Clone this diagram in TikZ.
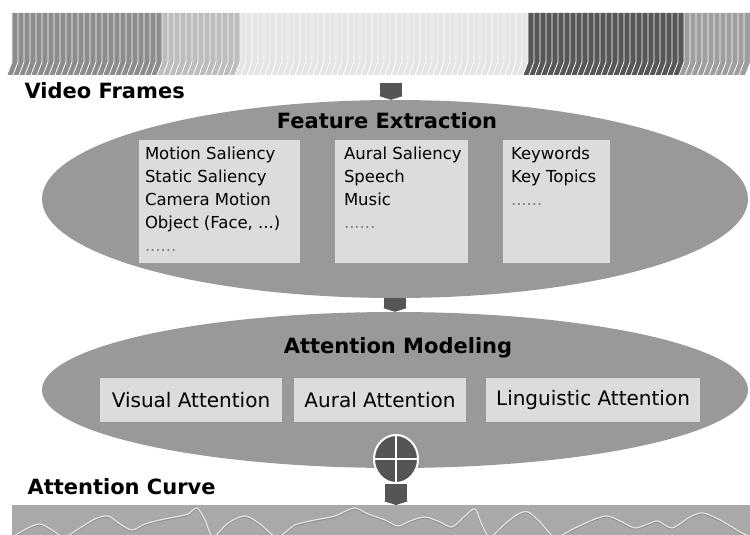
\documentclass[tikz,border=0pt]{standalone}
\usepackage{fontspec}
\setmainfont{DejaVu Sans}
\usetikzlibrary{shapes.geometric,positioning,arrows.meta}
\definecolor{ellc}{HTML}{999999}
\definecolor{boxc}{HTML}{DCDCDC}
\definecolor{connc}{HTML}{555555}
\definecolor{stripc}{HTML}{A9A9A9}
\definecolor{wavec}{HTML}{E4E4E4}
\tikzset{
  stage/.style={ellipse, fill=ellc, inner sep=0pt, minimum width=706pt},
  title/.style={font=\fontsize{21}{24}\selectfont\bfseries},
  featbox/.style={rectangle, fill=boxc, minimum height=123pt, inner sep=0pt},
  feattext/.style={align=left, inner sep=0pt, font=\fontsize{16.5}{23}\selectfont},
  attbox/.style={rectangle, fill=boxc, minimum height=44pt, inner sep=0pt, font=\fontsize{20}{24}\selectfont},
  conn/.style={draw=connc, line width=22pt, -{Triangle[width=25pt,length=4pt]}}
}
\newcommand{\more}{{\color{gray}......}}

\begin{document}
\begin{tikzpicture}[x=1pt, y=-1pt]
    \useasboundingbox (0,0) rectangle (750,535);
    % video frames
    \foreach \x in {12,18,...,744}{
        \pgfmathtruncatemacro\lev{\x<157 ? 55 : (\x<235 ? 74 : (\x<525 ? 90 : (\x<680 ? 34 : 62)))}
        \fill[white!\lev!black] (\x,13) -- ++(6,0) -- ++(0,49) -- ++(-5,13) -- ++(-6,0) -- ++(5,-13) -- cycle;
        \draw[white, line width=0.8pt] (\x,13) -- ++(0,49) -- ++(-5,13);
    }
    \coordinate (frames) at (391,75);
    \node[title, anchor=west] (vflabel) at (21,91) {Video Frames};
    % feature extraction
    \node[stage, minimum height=198pt] (feat) at (395,199) {};
    \node[title] (feattitle) at (387,121) {Feature Extraction};
    \node[featbox, minimum width=161pt] (fbox1) at (219.5,201.5) {};
    \node[featbox, minimum width=133pt] (fbox2) at (401.5,201.5) {};
    \node[featbox, minimum width=107pt] (fbox3) at (556.5,201.5) {};
    \node[feattext, below right=7pt and 6pt of fbox1.north west] (ftext1) {Motion Saliency\\Static Saliency\\Camera Motion\\Object (Face, ...)\\\more};
    \node[feattext, below right=7pt and 9pt of fbox2.north west] (ftext2) {Aural Saliency\\Speech\\Music\\\more};
    \node[feattext, below right=7pt and 8pt of fbox3.north west] (ftext3) {Keywords\\Key Topics\\\more};
    % attention modeling
    \node[stage, minimum height=156pt] (att) at (395,390) {};
    \node[title] (atttitle) at (398,348) {Attention Modeling};
    \node[attbox, minimum width=182pt] (visual) at (191,400) {Visual Attention};
    \node[attbox, minimum width=172pt] (aural) at (380,400) {Aural Attention};
    \node[attbox, minimum width=214pt] (ling) at (593,400) {Linguistic Attention};
    \node[ellipse, fill=connc, draw=white, line width=2pt, minimum width=44pt, minimum height=48pt, inner sep=0pt] (sum) at (396,459) {};
    \draw[white, line width=2pt] (sum.north) -- (sum.south) (sum.west) -- (sum.east);
    % attention curve
    \node[title, anchor=west] (aclabel) at (24,487) {Attention Curve};
    \node[rectangle, fill=stripc, minimum width=738pt, minimum height=30pt, inner sep=0pt, anchor=north west] (curve) at (12,505) {};
    \begin{scope}
        \clip (curve.north west) rectangle (curve.south east);
        \draw[wavec, line width=1.2pt, preaction={draw=black!45, line width=1.2pt, transform canvas={yshift=-1pt}}]
            plot[smooth] coordinates {(12,537) (28,528) (40,524) (52,530) (64,537) (80,528) (95,519) (108,516)
            (120,524) (132,530) (145,524) (160,520) (175,517) (188,514) (197,508) (205,520) (213,537)
            (228,523) (245,516) (260,524) (277,537) (295,525) (315,520) (335,516) (354,508) (368,514)
            (385,520) (398,526) (410,521) (425,517) (440,522) (452,527) (465,516) (475,509) (482,525)
            (490,537) (505,524) (518,514) (528,512) (540,522) (555,537) (575,528) (595,519) (608,516)
            (622,522) (635,528) (648,524) (658,521) (672,528) (690,517) (703,513) (720,520) (742,533) (752,537)};
    \end{scope}
    % connectors
    \draw[conn, shorten <=8pt] (frames) -- (frames |- feat.north);
    \draw[conn] (feat.south) -- (att.north);
    \draw[conn] (sum.south) -- (sum.south |- curve.north);
\end{tikzpicture}
\end{document}
